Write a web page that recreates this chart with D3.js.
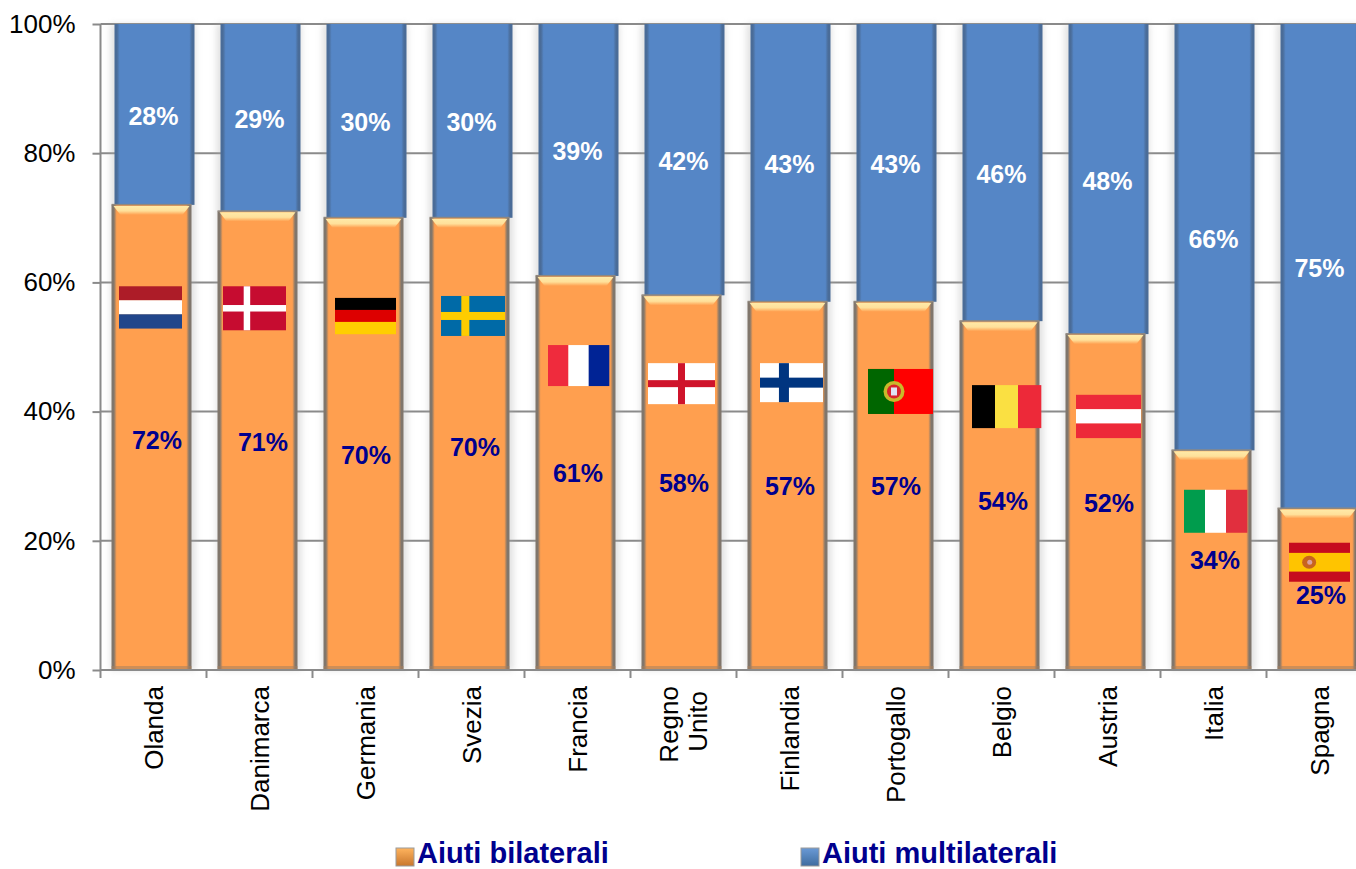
<!DOCTYPE html>
<html lang="it">
<head>
<meta charset="UTF-8">
<title>Aiuti bilaterali e multilaterali</title>
<script src="https://cdnjs.cloudflare.com/ajax/libs/d3/7.8.5/d3.min.js"></script>
<style>
html,body{margin:0;padding:0;background:#fff;overflow:hidden}
svg{display:block;font-family:"Liberation Sans",Arial,sans-serif}
.axis path,.axis line{stroke:#8a8a8a;stroke-width:2;fill:none}
.axis text{font-size:26px;fill:#000}
.lab{font-size:25px;font-weight:bold;text-anchor:middle}
.legend{font-size:29px;font-weight:bold;fill:#00008e}
</style>
</head>
<body>
<div id="root"></div>
<script>
// dati
const paesi = ["Olanda","Danimarca","Germania","Svezia","Francia","Regno Unito","Finlandia","Portogallo","Belgio","Austria","Italia","Spagna"]
const bilaterali = [72,71,70,70,61,58,57,57,54,52,34,25]
const multilaterali = [28,29,30,30,39,42,43,43,46,48,66,75]
const yTicks = [0,20,40,60,80,100]
const legenda = ["Aiuti bilaterali","Aiuti multilaterali"]

const width = 1356, height = 869
const left = 100.5, top_ = 24, bottom = 670, step = 106, barW = 80

// ritocchi manuali: etichette spostate a mano nell'originale
const nudgeBilX = [3.5,3.5,.5,3.5,.5,.5,.5,.5,1.5,1.5,1.5,1.5]
const nudgeBilY = [2.5,1.5,11,3,0,0,0,0,5.5,1,0,6]
// bandiere: dx dal centro colonna, valore del bordo alto, w, h
const flagBox = [
  [-34.5,59.4,63,42],[-36.5,59.4,63,44],[-30.5,57.6,61,36],[-30.5,57.9,64,40],
  [-29.5,50.3,61,41],[-35.5,47.5,67,41],[-29.5,47.5,63,39],[-27.5,46.6,65,45],
  [-29.5,44.1,69,43],[-31.5,42.6,65,43],[-29.5,27.9,63,43],[-30.5,19.7,61,39]
]

const svg = d3.select("#root").append("svg").attr("width",width).attr("height",height)

const pad = 1-barW/step
const x = d3.scaleBand().domain(paesi).range([left,left+step*paesi.length]).paddingInner(pad).paddingOuter(pad/2)
const y = d3.scaleLinear().domain([0,100]).range([bottom,top_])

const defs = svg.append("defs")
defs.append("filter").attr("id","blur").attr("x","-20%").attr("width","140%")
  .append("feGaussianBlur").attr("stdDeviation",3)

const sideGrad = (id,edge,mid) => {
  const g = defs.append("linearGradient").attr("id",id)
  ;[[0,edge],[.03,edge],[.065,mid],[.935,mid],[.97,edge],[1,edge]].forEach(s=>{
    g.append("stop").attr("offset",s[0]).attr("stop-color",s[1])
  })
}
sideGrad("gradO","#80766c","#ff9f4f")
sideGrad("gradB","#4a6c98","#5586c6")
const bevel = defs.append("linearGradient").attr("id","bevel").attr("x2",0).attr("y2",1)
bevel.append("stop").attr("offset",0).attr("stop-color","#ffeaa8")
bevel.append("stop").attr("offset",.55).attr("stop-color","#ffe09a")
bevel.append("stop").attr("offset",1).attr("stop-color","#ff9f4f")

// griglia
const grid = svg.append("g")
grid.selectAll("line").data(yTicks.filter(d=>d>0)).enter().append("line")
  .attr("x1",left).attr("x2",width).attr("y1",d=>y(d)).attr("y2",d=>y(d))
  .attr("stroke","#8a8a8a").attr("stroke-width",2)

// ombre
svg.append("g").selectAll("rect").data(paesi).enter().append("rect")
  .attr("x",d=>x(d)-3).attr("width",barW+5).attr("y",top_).attr("height",bottom-top_)
  .attr("fill","#aaa").attr("opacity",.35).attr("filter","url(#blur)")

// multilaterali
svg.append("g").selectAll("rect").data(paesi).enter().append("rect")
  .attr("x",d=>x(d)+1).attr("width",barW).attr("y",top_)
  .attr("height",(d,i)=>y(bilaterali[i])-top_)
  .attr("fill","url(#gradB)")

// bilaterali
const colO = svg.append("g").selectAll("g").data(paesi).enter().append("g")
colO.append("rect").attr("x",d=>x(d)-2).attr("width",barW)
  .attr("y",(d,i)=>y(bilaterali[i])).attr("height",(d,i)=>bottom-y(bilaterali[i]))
  .attr("fill","url(#gradO)")
colO.append("path")
  .attr("d",(d,i)=>{
    const a = x(d)-2, t = y(bilaterali[i])
    return `M${a+2},${t+1}H${a+barW-2}l-7,9H${a+9}Z`
  }).attr("fill","url(#bevel)")
colO.append("rect").attr("x",d=>x(d)-2).attr("width",barW).attr("y",(d,i)=>y(bilaterali[i])-1).attr("height",1.5).attr("fill","#8f877e")
colO.append("rect").attr("x",d=>x(d)-2).attr("width",barW).attr("y",bottom-4).attr("height",4).attr("fill","#a5805e").attr("opacity",.55)

// assi
const yAxis = d3.axisLeft(y).tickValues(yTicks).tickFormat(d=>d+"%").tickSize(8).tickPadding(17)
svg.append("g").attr("class","axis").attr("transform",`translate(${left},0)`).call(yAxis)
  .call(g=>g.select(".domain").attr("d",`M0,${top_}V${bottom}`))

const xAxis = d3.axisBottom(x).tickSize(0).tickFormat("")
const gx = svg.append("g").attr("class","axis").attr("transform",`translate(0,${bottom})`).call(xAxis)
gx.select(".domain").attr("d",`M${left},0H${width}`)
gx.selectAll(".tick line").attr("x1",-step/2).attr("x2",-step/2).attr("y2",8)
gx.selectAll(".tick text").each(function(d){
  const t = d3.select(this).text(null)
    .attr("text-anchor","end")
    .attr("transform","translate(0,16) rotate(-90)")
    .attr("x",0).attr("y",0).attr("dy",null)
  const righe = d=="Regno Unito" ? ["Regno","Unito"] : [d]
  righe.forEach((r,i)=>{
    t.append("tspan").attr("x",righe.length>1 ? (i==0?0:-5) : 0)
     .attr("y",righe.length>1 ? (i==0?-15:14)+9 : 9).text(r)
  })
})

// bandiere
const hStripes = (g,w,h,cols) => cols.forEach((c,i)=>{
  g.append("rect").attr("y",h*i/cols.length).attr("width",w).attr("height",h/cols.length+.3).attr("fill",c)
})
const vStripes = (g,w,h,cols) => cols.forEach((c,i)=>{
  g.append("rect").attr("x",w*i/cols.length).attr("width",w/cols.length+.3).attr("height",h).attr("fill",c)
})
const cross = (g,w,h,bg,c,cx,t) => {
  g.append("rect").attr("width",w).attr("height",h).attr("fill",bg)
  g.append("rect").attr("x",cx*w-t/2).attr("width",t).attr("height",h).attr("fill",c)
  g.append("rect").attr("y",h/2-t/2).attr("width",w).attr("height",t).attr("fill",c)
}
const flags = [
  (g,w,h)=>hStripes(g,w,h,["#ad1c28","#fff","#21468b"]),
  (g,w,h)=>cross(g,w,h,"#c60c30","#fff",.38,6.5),
  (g,w,h)=>hStripes(g,w,h,["#000","#dd0000","#ffce00"]),
  (g,w,h)=>cross(g,w,h,"#006aa7","#fecc00",.38,8),
  (g,w,h)=>vStripes(g,w,h,["#ef2b3d","#fff","#002395"]),
  (g,w,h)=>cross(g,w,h,"#fff","#cf142b",.5,7),
  (g,w,h)=>cross(g,w,h,"#fff","#003580",.38,10),
  (g,w,h)=>{
    g.append("rect").attr("width",w).attr("height",h).attr("fill","#ff0000")
    g.append("rect").attr("width",w*.4).attr("height",h).attr("fill","#006600")
    g.append("circle").attr("cx",w*.4).attr("cy",h/2).attr("r",10.5).attr("fill","#c9b92a")
    g.append("circle").attr("cx",w*.4).attr("cy",h/2).attr("r",7).attr("fill","#d8242a")
    g.append("rect").attr("x",w*.4-3).attr("y",h/2-4).attr("width",6).attr("height",8).attr("fill","#dfe4f2")
  },
  (g,w,h)=>vStripes(g,w,h,["#000","#fae042","#ed2939"]),
  (g,w,h)=>hStripes(g,w,h,["#ed2939","#fff","#ed2939"]),
  (g,w,h)=>vStripes(g,w,h,["#009c4d","#fff","#e12f3e"]),
  (g,w,h)=>{
    g.append("rect").attr("width",w).attr("height",h).attr("fill","#c60b1e")
    g.append("rect").attr("y",h*.26).attr("width",w).attr("height",h*.48).attr("fill","#ffc400")
    g.append("ellipse").attr("cx",w*.33).attr("cy",h/2).attr("rx",7).attr("ry",6.5).attr("fill","#c8641e")
    g.append("circle").attr("cx",w*.34).attr("cy",h/2).attr("r",2.5).attr("fill","#d9a0a0")
  }
]
paesi.forEach((p,i)=>{
  const b = flagBox[i]
  const g = svg.append("g").attr("transform",`translate(${x(p)+x.bandwidth()/2+b[0]},${y(b[1])})`)
  flags[i](g,b[2],b[3])
})

// etichette valori
svg.append("g").selectAll("text").data(paesi).enter().append("text").attr("class","lab")
  .attr("x",(d,i)=>x(d)+x.bandwidth()/2+nudgeBilX[i])
  .attr("y",(d,i)=>y(bilaterali[i]/2)+nudgeBilY[i]).attr("dy",".36em")
  .attr("fill","#00008e").text((d,i)=>bilaterali[i]+"%")
svg.append("g").selectAll("text").data(paesi).enter().append("text").attr("class","lab")
  .attr("x",d=>x(d)+x.bandwidth()/2)
  .attr("y",(d,i)=>y(bilaterali[i]+multilaterali[i]/2)+1.5).attr("dy",".36em")
  .attr("fill","#fff").text((d,i)=>multilaterali[i]+"%")

// legenda
const legX = [396,801], legCol = [["#ffb45e","#c8762c"],["#6a9ad6","#3f6c9f"]]
legenda.forEach((t,i)=>{
  const gr = defs.append("linearGradient").attr("id","leg"+i).attr("x2",0).attr("y2",1)
  gr.append("stop").attr("offset",0).attr("stop-color",legCol[i][0])
  gr.append("stop").attr("offset",1).attr("stop-color",legCol[i][1])
  svg.append("rect").attr("x",legX[i]).attr("y",848).attr("width",18).attr("height",18)
    .attr("fill",`url(#leg${i})`).attr("stroke","#9a9a9a").attr("stroke-width",1)
  svg.append("text").attr("class","legend").attr("x",legX[i]+21).attr("y",862.5).text(t)
})
</script>
</body>
</html>
